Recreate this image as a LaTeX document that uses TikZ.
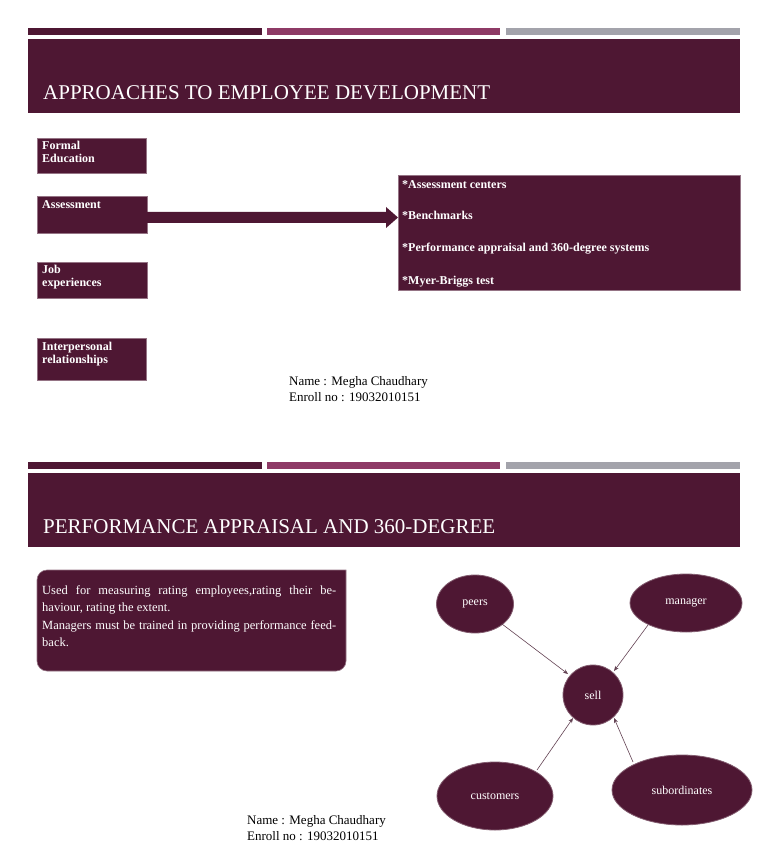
\documentclass[tikz,border=0pt]{standalone}
\usepackage{fontspec}
\setmainfont{Liberation Serif}
\usetikzlibrary{shapes.geometric,arrows.meta}
\definecolor{maroon}{HTML}{4E1733}
\definecolor{pinkbar}{HTML}{8E3A66}
\definecolor{graybar}{HTML}{A3A3AB}
\tikzset{
  lbox/.style={fill=maroon,draw=maroon!60!white,line width=0.6pt,anchor=north west,inner sep=0pt},
  lbl/.style={text=white,font=\bfseries\fontsize{12}{13}\selectfont,align=left,anchor=north west,inner sep=0pt},
  ell/.style={ellipse,fill=maroon,draw=maroon!70!white,line width=0.8pt,text=white,font=\fontsize{12}{14}\selectfont,inner sep=0pt},
  con/.style={draw=maroon!60!gray,line width=0.6pt,-{Stealth[length=5pt,width=4pt]}},
  plain/.style={font=\fontsize{13}{16}\selectfont,align=left,anchor=north west,inner sep=0pt},
  title/.style={text=white,font=\fontsize{21}{24}\selectfont,anchor=base west,inner sep=0pt}
}
\begin{document}
\begin{tikzpicture}[x=1pt,y=-1pt]
\useasboundingbox (0,0) rectangle (768,866);
% slide 1
\fill[maroon] (28,28) rectangle (262,35);
\fill[pinkbar] (267,28) rectangle (500,35);
\fill[graybar] (506,28) rectangle (740,35);
\fill[maroon] (28,39) rectangle (740,113);
\node[title] (t1) at (43,100) {APPROACHES TO EMPLOYEE DEVELOPMENT};
\path[lbox] (37,138) rectangle (146,173);
\node[lbl] (fe) at (42,141) {Formal\\Education};
\path[lbox] (37,196) rectangle (147,233);
\node[lbl] (as) at (42,200) {Assessment};
\path[lbox] (37,262) rectangle (147,298);
\node[lbl] (je) at (42,265) {Job\\experiences};
\path[lbox] (37,338) rectangle (146,380);
\node[lbl] (ir) at (42,342) {Interpersonal\\relationships};
\path[lbox] (398,175) rectangle (740,290);
\coordinate (a0) at (147,217);
\coordinate (a1) at (398,217);
\fill[maroon] (147,212) -- (386,212) -- (386,207) -- (398,217.5) -- (386,228) -- (386,223) -- (147,223) -- cycle;
\node[lbl,anchor=base west] (r1) at (402,189) {*Assessment centers};
\node[lbl,anchor=base west] (r2) at (402,220) {*Benchmarks};
\node[lbl,anchor=base west] (r3) at (402,252) {*Performance appraisal and 360-degree systems};
\node[lbl,anchor=base west] (r4) at (402,284) {*Myer-Briggs test};
\node[plain] (n1) at (289,376) {Name : Megha Chaudhary\\Enroll no : 19032010151};
% slide 2
\fill[maroon] (28,462) rectangle (262,469);
\fill[pinkbar] (267,462) rectangle (500,469);
\fill[graybar] (506,462) rectangle (740,469);
\fill[maroon] (28,473) rectangle (740,547);
\node[title] (t2) at (43,533) {PERFORMANCE APPRAISAL AND 360-DEGREE};
\path[fill=maroon,draw=maroon!60!white,line width=0.6pt,rounded corners=10pt] (37,570) -- (336,570) .. controls (346,570) .. (346,580) -- (346,671) -- (37,671) -- cycle;
\node[plain,text=white,font=\fontsize{12.5}{17.5}\selectfont,text width=294pt,align=justify] (pt) at (42,585)
{Used for measuring rating employees,rating their behaviour, rating the extent.\\Managers must be trained in providing performance feedback.};
\node[ell,minimum width=77pt,minimum height=58pt] (peers) at (475,604) {peers};
\node[ell,minimum width=112pt,minimum height=58pt] (mgr) at (686,603) {manager};
\node[ell,minimum width=60pt,minimum height=60pt] (sell) at (593,695) {sell};
\node[ell,minimum width=116pt,minimum height=68pt] (cust) at (495,796) {customers};
\node[ell,minimum width=140pt,minimum height=70pt] (sub) at (682,790) {subordinates};
\draw[con] (502,624) -- (568,674);
\draw[con] (648,625) -- (614,671);
\draw[con] (537,770) -- (573,718);
\draw[con] (633,762) -- (614,718);
\node[plain] (n2) at (247,815) {Name : Megha Chaudhary\\Enroll no : 19032010151};
\end{tikzpicture}
\end{document}
